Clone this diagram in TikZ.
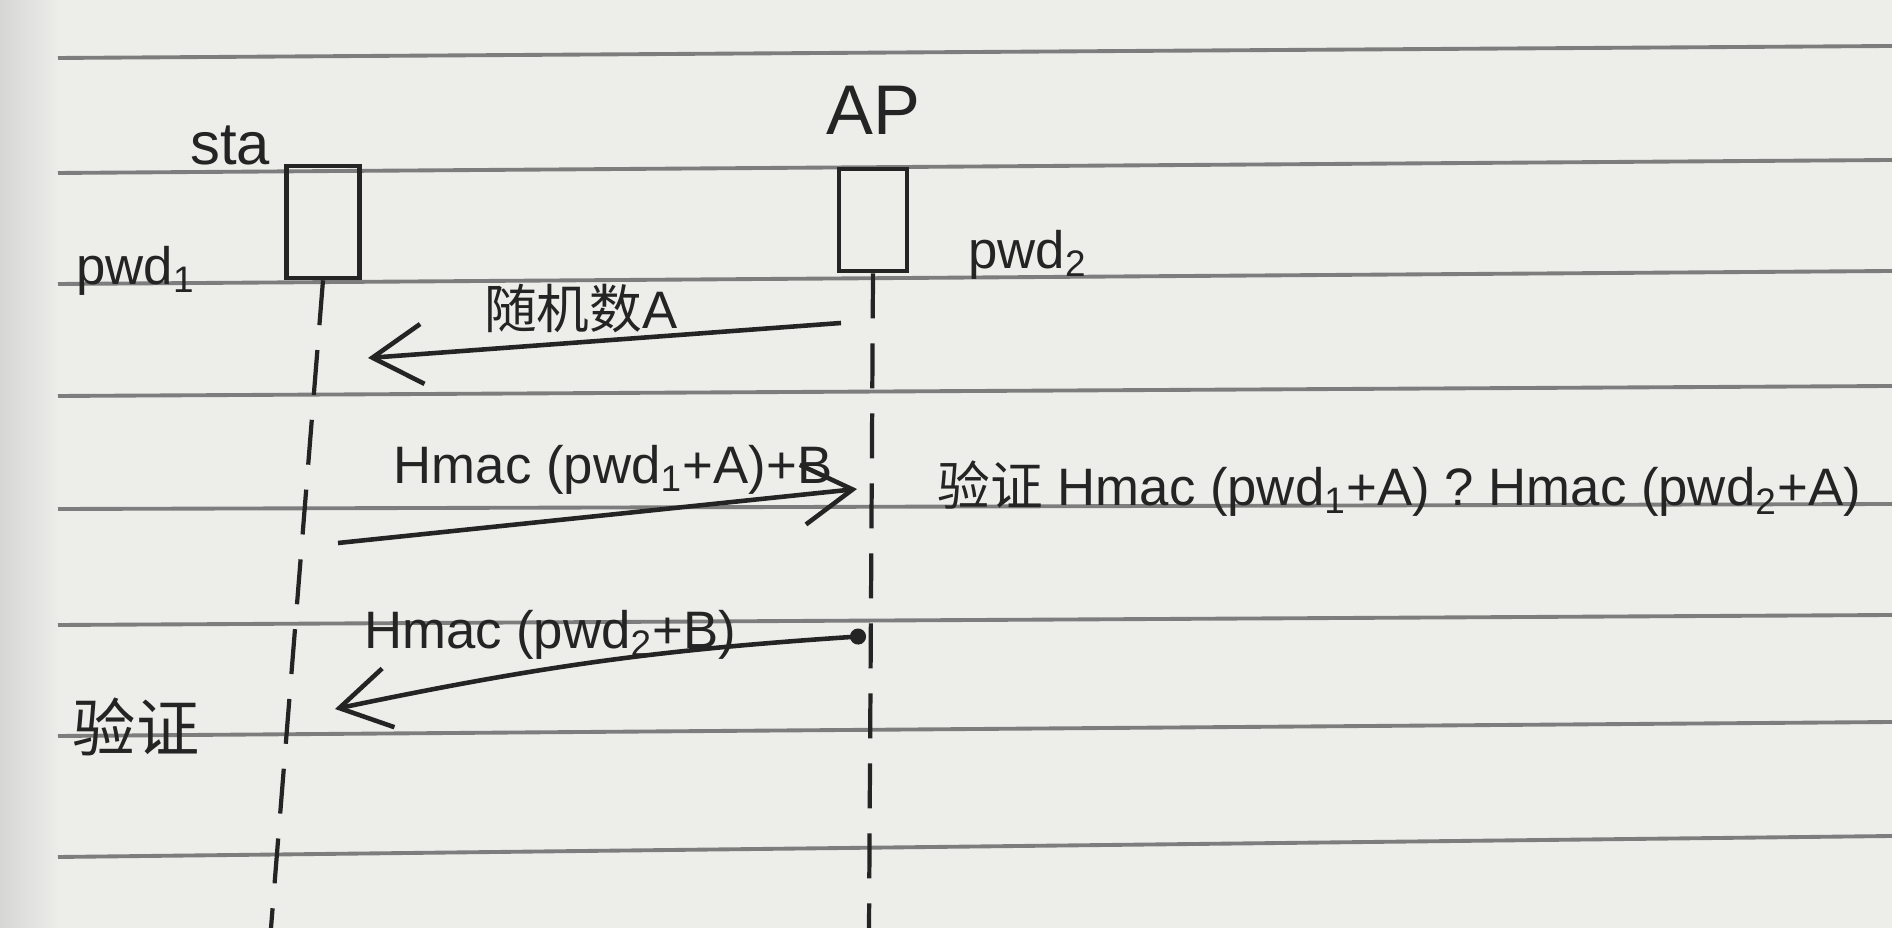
\documentclass[tikz,border=0pt]{standalone}
\usepackage{fontspec}
\setmainfont{Liberation Sans}
\newfontfamily\cjk{Noto Sans CJK SC}
\usetikzlibrary{positioning}
\usetikzlibrary{arrows.meta}

\definecolor{paper}{RGB}{237,237,234}
\definecolor{rule}{RGB}{125,125,125}
\definecolor{ink}{RGB}{36,36,36}

\begin{document}
\begin{tikzpicture}[
lifebox/.style={rectangle, draw=ink, line width=1.3pt, minimum width=7mm, minimum height=10.7mm},
actor/.style={font=\fontsize{17}{20}\selectfont, text=ink},
hand/.style={font=\fontsize{15}{18}\selectfont, text=ink, inner sep=2pt},
lifeline/.style={draw=ink, line width=1.2pt, dash pattern=on 4.5mm off 2.5mm},
msg/.style={draw=ink, line width=1.3pt, -{Straight Barb[length=5mm, width=6mm, line width=1.3pt]}},
ruled/.style={draw=rule, line width=1.1pt},
]
%Paper
\fill[paper] (0,0) rectangle (18.92,-9.28);
\shade[left color=black!16, right color=paper] (0,0) rectangle (0.6,-9.28);
\useasboundingbox (0,0) rectangle (18.92,-9.28);
\foreach \ya/\yb in {0.58/0.46, 1.73/1.60, 2.84/2.71, 3.96/3.86, 5.09/5.04, 6.25/6.15, 7.36/7.22, 8.57/8.36}
  \draw[ruled] (0.58,-\ya) -- (18.92,-\yb);

%Nodes
\node[lifebox, minimum width=7.3mm, minimum height=11.2mm] (stabox) at (3.23,-2.22) {};
\node[lifebox, minimum width=6.8mm, minimum height=10.2mm] (apbox)  at (8.73,-2.20) {};
\node[actor]   (sta)    at (2.30,-1.45)       {sta};
\node[actor, font=\fontsize{20}{24}\selectfont] (ap) [above=2mm of apbox] {AP};
\node[hand]    (pwda)   at (1.36,-2.71)       {pwd\textsubscript{1}};
\node[hand]    (pwdb)   at (10.28,-2.55)      {pwd\textsubscript{2}};
\node[hand, anchor=west] (check) at (9.30,-4.89)
  {{\cjk 验证} Hmac (pwd\textsubscript{1}+A) ? Hmac (pwd\textsubscript{2}+A)};
\node[hand, font=\fontsize{18}{20}\selectfont] (verify) at (1.36,-7.27) {\cjk 验证};

\coordinate (staend) at (2.71,-9.28);
\coordinate (apend)  at (8.69,-9.28);
\coordinate (m1a) at (8.41,-3.23);
\coordinate (m1b) at (3.68,-3.58);
\coordinate (m2a) at (3.38,-5.43);
\coordinate (m2b) at (8.57,-4.89);
\coordinate (m3a) at (8.66,-6.36);
\coordinate (m3b) at (3.35,-7.09);

%Lines
\draw[lifeline] (stabox.south) -- (staend);
\draw[lifeline] (apbox.south) -- (apend);
\draw[msg] (m1a) -- (m1b) node[hand, pos=0.55, above] (rand) {{\cjk 随机数}A};
\draw[msg] (m2a) -- (m2b) node[hand, pos=0.53, above=3pt] (hmaca) {Hmac (pwd\textsubscript{1}+A)+B};
\draw[msg, {Circle[length=1.6mm]}-{Straight Barb[length=5mm, width=6mm, line width=1.3pt]}]
  (m3a) to[bend right=4] node[hand, pos=0.6, above] (hmacb) {Hmac (pwd\textsubscript{2}+B)} (m3b);
\end{tikzpicture}
\end{document}
